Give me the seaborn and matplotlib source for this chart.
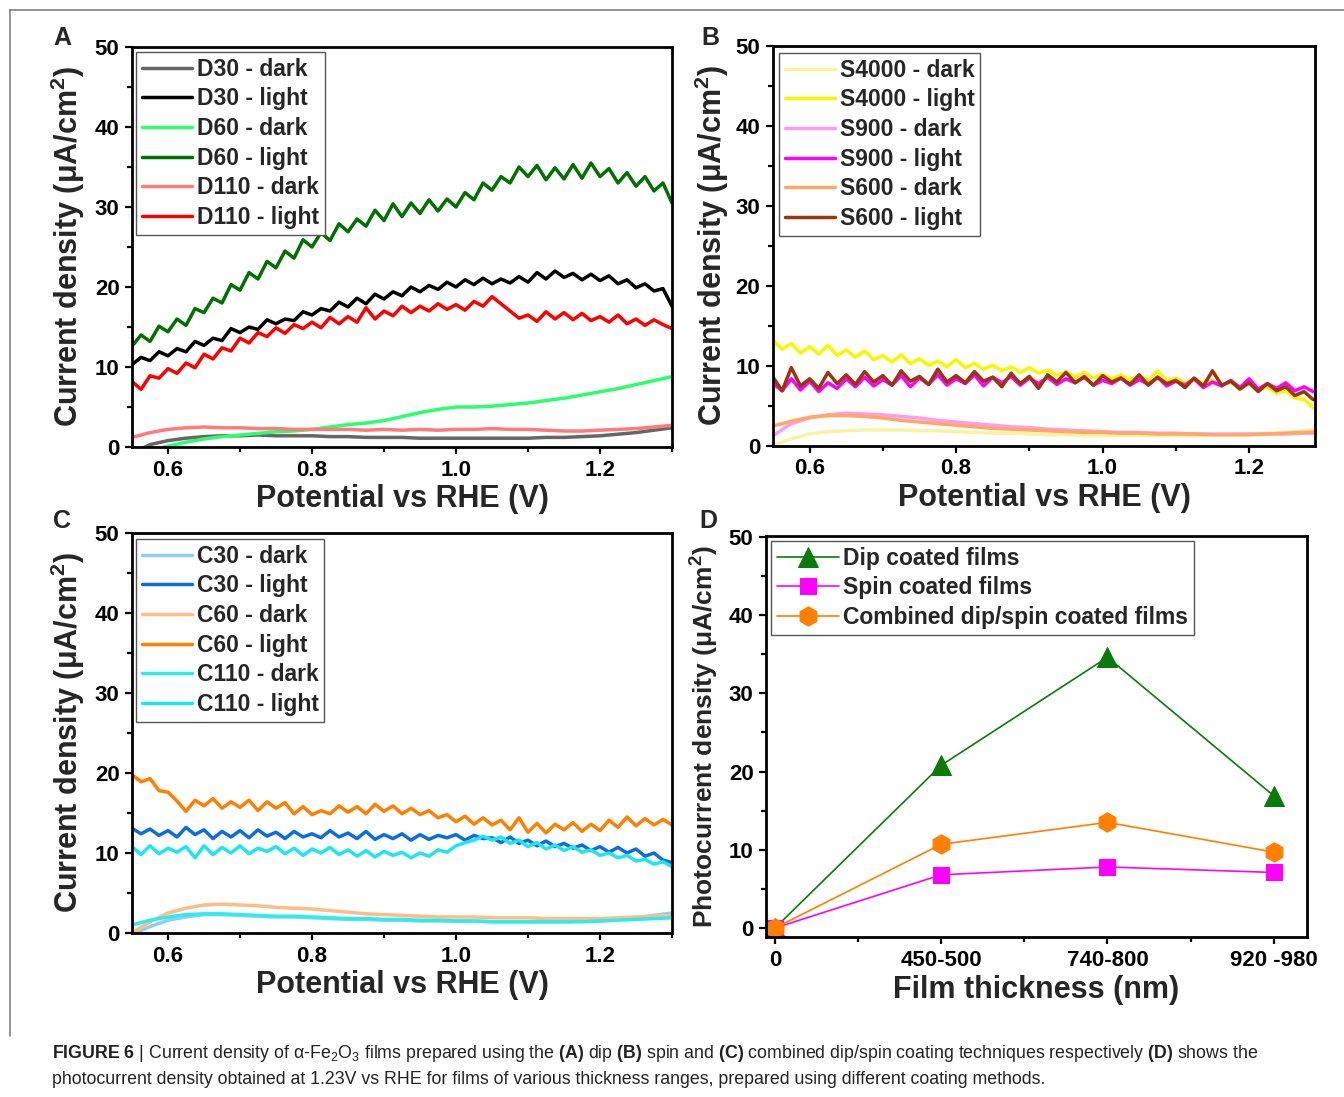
import numpy as np
import pandas as pd
import matplotlib
matplotlib.use("Agg")
import matplotlib.pyplot as plt
from matplotlib.lines import Line2D
from matplotlib.ticker import MultipleLocator, FixedLocator
import seaborn as sns

sns.set_style("ticks")
plt.rcParams["font.family"] = ["Liberation Sans", "DejaVu Sans"]
plt.rcParams["mathtext.fontset"] = "custom"
plt.rcParams["mathtext.rm"] = "Liberation Sans"
plt.rcParams["mathtext.bf"] = "Liberation Sans:bold"
plt.rcParams["mathtext.it"] = "Liberation Sans:italic"

# ---------------------------------------------------------------- potentials
potential_fine = np.round(np.linspace(0.55, 1.30, 61), 4)    # illuminated scans
potential_coarse = np.round(np.linspace(0.55, 1.30, 31), 4)  # dark scans

# ---------------------------------------------------------------- (A) dip coated
d30_dark = [-0.8, 0.3, 0.8, 1.1, 1.3, 1.4, 1.4, 1.5, 1.4, 1.4, 1.4, 1.3, 1.3, 1.2, 1.2, 1.2,
            1.1, 1.1, 1.1, 1.1, 1.1, 1.1, 1.1, 1.2, 1.2, 1.3, 1.4, 1.6, 1.8, 2.1, 2.4]
d30_light = [10.3, 11.2, 10.8, 11.9, 11.4, 12.3, 11.9, 13.2, 12.7, 13.6,
             13.3, 14.8, 14.3, 15.0, 14.7, 15.9, 15.4, 16.0, 15.8, 16.9,
             16.5, 17.3, 17.0, 18.1, 17.5, 18.6, 17.9, 19.1, 18.5, 19.4,
             18.9, 20.0, 19.4, 20.2, 19.7, 20.6, 20.0, 20.9, 20.3, 21.1,
             20.4, 21.0, 20.5, 21.3, 20.6, 21.8, 21.0, 22.0, 21.2, 21.7,
             20.9, 21.6, 20.8, 21.4, 20.4, 20.9, 19.9, 20.4, 19.5, 19.8, 17.6]
d60_dark = [-1.0, -0.4, 0.1, 0.6, 1.0, 1.3, 1.5, 1.7, 1.9, 2.0, 2.2, 2.5, 2.8, 3.0, 3.3, 3.8,
            4.3, 4.7, 5.0, 5.0, 5.1, 5.3, 5.5, 5.8, 6.1, 6.5, 6.9, 7.3, 7.8, 8.3, 8.8]
d60_light = [12.6, 14.0, 13.2, 15.1, 14.4, 16.0, 15.2, 17.3, 16.8, 18.6,
             18.0, 20.3, 19.6, 21.8, 21.0, 23.2, 22.4, 24.5, 23.6, 25.9,
             25.0, 26.8, 25.8, 27.9, 26.9, 28.5, 27.6, 29.6, 28.3, 30.4,
             28.8, 30.5, 29.2, 30.9, 29.5, 31.0, 30.0, 31.8, 30.9, 33.0,
             32.1, 33.8, 33.0, 35.0, 33.8, 35.2, 33.4, 34.9, 33.5, 35.3,
             33.6, 35.5, 33.8, 34.8, 33.0, 34.3, 32.6, 33.8, 32.0, 33.0, 30.5]
d110_dark = [1.2, 1.8, 2.2, 2.4, 2.5, 2.4, 2.4, 2.3, 2.3, 2.2, 2.2, 2.2, 2.2, 2.1, 2.2, 2.1,
             2.2, 2.1, 2.2, 2.2, 2.3, 2.2, 2.2, 2.1, 2.0, 2.0, 2.1, 2.2, 2.3, 2.5, 2.7]
d110_light = [8.2, 7.2, 8.9, 8.6, 9.8, 9.2, 10.5, 9.9, 11.6, 11.0,
              12.4, 12.0, 13.6, 13.0, 14.3, 13.8, 14.9, 14.2, 15.3, 14.8,
              15.6, 14.9, 16.2, 15.4, 16.3, 15.6, 17.4, 16.0, 17.0, 16.4,
              17.6, 16.8, 17.6, 17.0, 17.9, 17.2, 17.8, 17.1, 18.2, 17.6,
              18.8, 17.9, 17.0, 16.1, 16.5, 15.7, 16.9, 16.0, 16.8, 15.9,
              16.7, 15.8, 16.3, 15.6, 16.5, 15.4, 16.0, 15.2, 15.9, 15.3, 14.8]

# ---------------------------------------------------------------- (B) spin coated
s4000_dark = [0.1, 0.9, 1.5, 1.8, 1.9, 2.0, 2.0, 2.0, 1.9, 1.9, 1.8, 1.7, 1.6, 1.6, 1.5, 1.4,
              1.4, 1.3, 1.3, 1.3, 1.3, 1.3, 1.3, 1.3, 1.4, 1.4, 1.5, 1.6, 1.7, 1.9, 2.1]
s4000_light = [13.2, 12.1, 12.8, 11.6, 12.4, 11.5, 12.6, 11.3, 12.0, 11.1,
               11.9, 10.8, 11.3, 10.5, 11.4, 10.3, 10.9, 10.1, 10.6, 9.9,
               10.8, 9.8, 10.3, 9.6, 10.1, 9.4, 9.9, 9.2, 9.8, 9.1,
               9.5, 8.8, 9.3, 8.6, 9.2, 8.5, 9.0, 8.4, 8.9, 8.3,
               8.8, 8.2, 9.4, 8.1, 8.5, 7.9, 8.4, 7.8, 8.2, 7.6,
               8.0, 7.3, 7.8, 7.0, 7.4, 6.6, 6.9, 6.0, 5.8, 4.8, 4.3]
s900_dark = [1.3, 2.8, 3.5, 3.9, 4.1, 4.0, 3.9, 3.7, 3.5, 3.2, 3.0, 2.8, 2.6, 2.4, 2.3, 2.1,
             2.0, 1.9, 1.8, 1.7, 1.7, 1.6, 1.6, 1.5, 1.5, 1.5, 1.5, 1.5, 1.5, 1.6, 1.6]
s900_light = [7.8, 6.9, 8.4, 7.0, 8.1, 6.8, 7.9, 7.2, 8.4, 7.4,
              8.6, 7.5, 8.3, 7.6, 8.8, 7.4, 8.5, 7.7, 8.9, 7.6,
              8.4, 7.8, 8.9, 7.5, 8.6, 7.9, 8.7, 7.6, 8.5, 7.8,
              8.6, 7.7, 8.4, 7.9, 8.7, 7.6, 8.2, 7.8, 8.5, 7.6,
              8.3, 7.7, 8.6, 7.5, 8.1, 7.6, 8.4, 7.3, 8.0, 7.5,
              8.2, 7.3, 8.4, 7.1, 7.8, 7.2, 7.9, 6.9, 7.4, 6.8, 7.0]
s600_dark = [2.5, 3.1, 3.6, 3.8, 3.8, 3.7, 3.5, 3.2, 3.0, 2.8, 2.6, 2.4, 2.2, 2.1, 2.0, 1.9,
             1.8, 1.7, 1.7, 1.6, 1.6, 1.5, 1.5, 1.5, 1.4, 1.4, 1.4, 1.5, 1.6, 1.7, 1.8]
s600_light = [8.6, 6.9, 9.8, 7.5, 8.4, 7.2, 9.2, 7.8, 8.9, 7.7,
              9.3, 8.0, 8.8, 7.6, 9.4, 8.1, 8.7, 7.7, 9.6, 8.0,
              8.8, 7.9, 9.3, 8.1, 8.6, 7.4, 9.1, 7.8, 8.7, 7.2,
              8.9, 8.0, 9.2, 7.9, 8.6, 7.6, 8.8, 8.0, 8.5, 7.7,
              8.9, 7.6, 8.6, 7.8, 8.2, 7.3, 8.5, 7.5, 9.4, 7.6,
              8.1, 7.1, 7.9, 6.8, 7.8, 6.9, 7.4, 6.3, 6.8, 5.8, 6.2]

# ---------------------------------------------------------------- (C) combined dip/spin
c30_dark = [-0.2, 0.8, 1.6, 2.0, 2.3, 2.3, 2.2, 2.1, 2.0, 2.0, 1.9, 1.8, 1.7, 1.7, 1.6, 1.6,
            1.5, 1.5, 1.5, 1.5, 1.4, 1.4, 1.4, 1.4, 1.4, 1.5, 1.5, 1.7, 1.9, 2.2, 2.5]
c30_light = [13.1, 12.4, 13.0, 12.2, 12.8, 12.0, 13.2, 12.3, 12.9, 11.8,
             12.7, 12.0, 12.8, 11.9, 12.9, 12.1, 12.6, 11.8, 12.7, 12.0,
             12.4, 11.9, 12.8, 12.0, 12.5, 11.8, 12.7, 11.7, 12.3, 11.8,
             12.4, 11.6, 12.3, 11.7, 12.2, 11.9, 12.3, 11.6, 12.2, 11.8,
             11.9, 11.3, 12.0, 11.2, 11.6, 10.9, 11.5, 10.8, 11.2, 10.6,
             11.0, 10.3, 10.8, 10.1, 10.7, 10.0, 10.5, 9.6, 10.0, 9.1, 8.8]
c60_dark = [0.0, 1.4, 2.5, 3.1, 3.5, 3.6, 3.5, 3.4, 3.2, 3.1, 3.0, 2.8, 2.6, 2.4, 2.3, 2.2,
            2.1, 2.0, 2.0, 2.0, 1.9, 1.9, 1.9, 1.8, 1.8, 1.8, 1.8, 1.9, 2.0, 2.1, 2.2]
c60_light = [19.8, 18.9, 19.3, 17.8, 17.6, 16.5, 15.2, 16.6, 15.9, 16.8,
             15.6, 16.4, 15.7, 16.6, 15.3, 16.4, 15.6, 16.3, 14.9, 15.8,
             14.8, 15.3, 14.9, 15.9, 15.1, 15.8, 14.9, 16.1, 15.2, 15.9,
             14.9, 15.6, 14.8, 15.3, 14.4, 14.8, 13.9, 14.6, 13.6, 14.4,
             13.5, 14.1, 12.9, 14.4, 12.6, 13.7, 12.5, 13.6, 12.9, 13.8,
             12.7, 13.6, 12.8, 14.1, 13.2, 14.5, 13.4, 14.3, 13.5, 14.2, 13.5]
c110_dark = [1.0, 1.6, 2.0, 2.3, 2.4, 2.4, 2.3, 2.2, 2.1, 2.1, 2.0, 1.9, 1.8, 1.8, 1.7, 1.7,
             1.6, 1.6, 1.5, 1.5, 1.4, 1.4, 1.4, 1.4, 1.4, 1.4, 1.5, 1.6, 1.7, 1.8, 1.9]
c110_light = [10.8, 9.8, 10.9, 9.9, 10.6, 10.1, 10.8, 9.4, 10.9, 9.8,
              10.7, 10.0, 10.9, 9.9, 10.6, 10.2, 10.8, 9.9, 10.6, 9.7,
              10.5, 10.0, 10.7, 9.8, 10.4, 9.6, 10.3, 9.5, 10.2, 9.7,
              10.1, 9.4, 10.0, 9.6, 10.4, 10.1, 10.9, 11.3, 11.6, 12.1,
              11.6, 12.0, 11.2, 11.6, 10.8, 11.3, 10.5, 11.0, 10.3, 10.8,
              10.1, 10.4, 9.7, 10.0, 9.4, 9.7, 9.0, 9.2, 8.6, 8.9, 8.3]

# ---------------------------------------------------------------- (D) photocurrent at 1.23 V
thickness_labels = ["0", "450-500", "740-800", "920 -980"]
dip_photocurrent = [0.0, 20.8, 34.6, 16.9]
spin_photocurrent = [0.0, 6.8, 7.8, 7.1]
combined_photocurrent = [0.0, 10.7, 13.5, 9.7]

panel_a = [("D30 - dark", d30_dark, "#666666"), ("D30 - light", d30_light, "#000000"),
           ("D60 - dark", d60_dark, "#2cff6e"), ("D60 - light", d60_light, "#007000"),
           ("D110 - dark", d110_dark, "#ff7a7a"), ("D110 - light", d110_light, "#ff0000")]
panel_b = [("S4000 - dark", s4000_dark, "#f8f3a2"), ("S4000 - light", s4000_light, "#f7f700"),
           ("S900 - dark", s900_dark, "#ff9cf0"), ("S900 - light", s900_light, "#ff00ff"),
           ("S600 - dark", s600_dark, "#ffa864"), ("S600 - light", s600_light, "#9a360c")]
panel_c = [("C30 - dark", c30_dark, "#90cdf5"), ("C30 - light", c30_light, "#0a6ee0"),
           ("C60 - dark", c60_dark, "#ffbb88"), ("C60 - light", c60_light, "#ff8000"),
           ("C110 - dark", c110_dark, "#2aeeee"), ("C110 - light", c110_light, "#1ee6f0")]

W, H = 1344, 1097
fig = plt.figure(figsize=(W / 100, H / 100), dpi=100)


def px_box(left, top, right, bottom):
    return [left / W, 1 - bottom / H, (right - left) / W, (bottom - top) / H]


TICK = 16
LABEL = 22
LEGEND = 16.5
YLABEL = "Current density (\u03bcA/cm$^{\\mathbf{2}}$)"


def style_axes(ax, ylabel, xlabel, ylab_x, xlab_y, ylabel_size=LABEL):
    for sp in ax.spines.values():
        sp.set_visible(True)
        sp.set_linewidth(2.0)
        sp.set_color("black")
    ax.tick_params(which="both", direction="out", top=False, right=False,
                   width=1.6, colors="black")
    ax.tick_params(which="major", length=5, pad=4, labelsize=TICK)
    ax.tick_params(which="minor", length=3.5)
    for lab in ax.get_xticklabels() + ax.get_yticklabels():
        lab.set_fontweight("bold")
    ax.set_ylabel(ylabel, fontsize=ylabel_size, fontweight="bold")
    ax.set_xlabel(xlabel, fontsize=LABEL, fontweight="bold")
    ax.yaxis.set_label_coords(ylab_x, 0.5)
    ax.yaxis.label.set_verticalalignment("center")
    ax.xaxis.set_label_coords(0.5, xlab_y)
    ax.xaxis.label.set_verticalalignment("center")
    ax.grid(False)


def add_legend(ax, anchor, handlelength=2.2):
    leg = ax.legend(loc="upper left", bbox_to_anchor=anchor, bbox_transform=ax.transAxes,
                    frameon=True, fancybox=False, edgecolor="#555555", framealpha=1,
                    borderpad=0.25, labelspacing=0.29, handlelength=handlelength,
                    handletextpad=0.2, borderaxespad=0,
                    prop={"weight": "bold", "size": LEGEND})
    leg.get_frame().set_linewidth(1.0)
    return leg


def scan_panel(box, series, xmax, legend_anchor, ylab_x):
    ax = fig.add_axes(box)
    for label, values, color in series:
        xs = potential_coarse if len(values) == len(potential_coarse) else potential_fine
        sns.lineplot(x=xs, y=values, color=color, lw=2.5, label=label, ax=ax)
    ax.set_xlim(0.55, xmax)
    ax.set_ylim(0, 50)
    ax.xaxis.set_major_locator(MultipleLocator(0.2))
    ax.xaxis.set_minor_locator(MultipleLocator(0.1))
    ax.yaxis.set_major_locator(MultipleLocator(10))
    ax.yaxis.set_minor_locator(MultipleLocator(5))
    style_axes(ax, YLABEL, "Potential vs RHE (V)", ylab_x, -0.13)
    add_legend(ax, legend_anchor)
    return ax


ax_a = scan_panel(px_box(132, 47, 672, 447), panel_a, 1.30, (0.0074, 0.9875), -0.1185)
ax_b = scan_panel(px_box(773, 46, 1315, 446), panel_b, 1.29, (0.011, 0.9825), -0.1125)
ax_c = scan_panel(px_box(132, 533, 672, 933), panel_c, 1.30, (0.0074, 0.985), -0.1185)

# (D) photocurrent versus film thickness
ax_d = fig.add_axes(px_box(766, 536, 1307, 937))
pos = np.arange(len(thickness_labels))
sns.lineplot(x=pos, y=dip_photocurrent, color="#0a7a0a", lw=1.2, marker="^", markersize=14,
             markeredgecolor="#0a7a0a", label="Dip coated films", ax=ax_d)
sns.lineplot(x=pos, y=spin_photocurrent, color="#ff00ff", lw=1.2, marker="s", markersize=11,
             markeredgecolor="#ff00ff", label="Spin coated films", ax=ax_d)
sns.lineplot(x=pos, y=combined_photocurrent, color="#ff8000", lw=1.2, marker="h", markersize=14,
             markeredgecolor="#ff8000", label="Combined dip/spin coated films", ax=ax_d)
ax_d.set_xlim(-0.054, 3.2)
ax_d.set_ylim(-1.15, 50.1)
ax_d.set_xticks(pos)
ax_d.set_xticklabels(thickness_labels)
ax_d.xaxis.set_minor_locator(FixedLocator([0.5, 1.5, 2.5]))
ax_d.yaxis.set_major_locator(MultipleLocator(10))
ax_d.yaxis.set_minor_locator(MultipleLocator(5))
style_axes(ax_d, "Photocurrent density (\u03bcA/cm$^{\\mathbf{2}}$)", "Film thickness (nm)",
           -0.113, -0.132, ylabel_size=19)
add_legend(ax_d, (0.0092, 0.9875), handlelength=2.7)

# panel letters
for letter, (lx, ly) in {"A": (62, 38), "B": (710, 38), "C": (62, 521), "D": (708, 521)}.items():
    fig.text(lx / W, 1 - ly / H, letter, fontsize=18, fontweight="bold", ha="center", va="center")

# frame around the figure
fig.add_artist(Line2D([10 / W, 1.0], [1 - 10 / H, 1 - 10 / H], transform=fig.transFigure,
                      color="#808080", lw=1.2))
fig.add_artist(Line2D([10 / W, 10 / W], [1 - 10 / H, 1 - 1036 / H], transform=fig.transFigure,
                      color="#808080", lw=1.2))

caption_1 = ("$\\mathbf{FIGURE\\ 6}$ | Current density of \u03b1-Fe$_2$O$_3$ films prepared using the "
             "$\\mathbf{(A)}$ dip $\\mathbf{(B)}$ spin and $\\mathbf{(C)}$ combined dip/spin coating "
             "techniques respectively $\\mathbf{(D)}$ shows the")
caption_2 = ("photocurrent density obtained at 1.23V vs RHE for films of various thickness ranges, "
             "prepared using different coating methods.")
fig.text(52 / W, 1 - 1053 / H, caption_1, fontsize=12.8, color="#222222", va="center", ha="left")
fig.text(52 / W, 1 - 1080 / H, caption_2, fontsize=12.8, color="#222222", va="center", ha="left")

fig.savefig("out.png", dpi=100, facecolor="white")
